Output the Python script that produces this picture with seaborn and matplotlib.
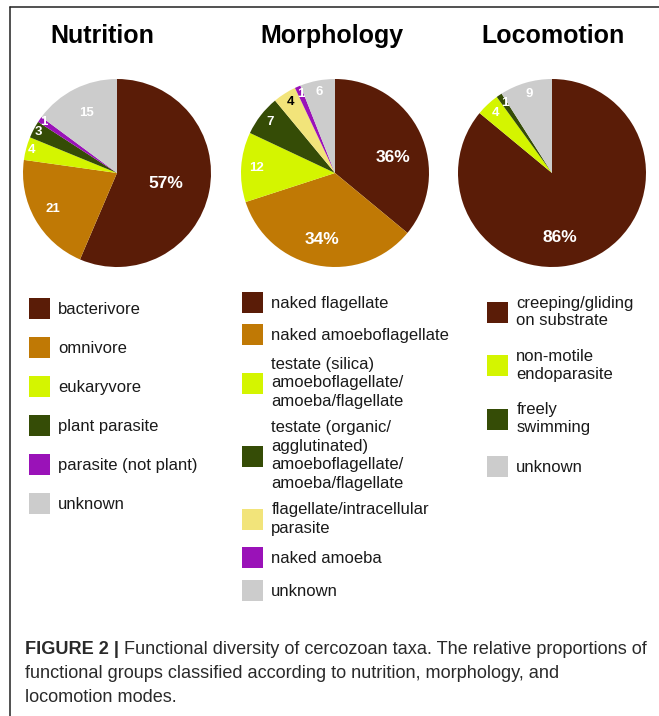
import matplotlib
matplotlib.use("Agg")
import numpy as np
import matplotlib.pyplot as plt
import seaborn as sns
from matplotlib.patches import Patch
from matplotlib.lines import Line2D

# ---------------- data ----------------
nutrition_labels = ["bacterivore", "omnivore", "eukaryvore", "plant parasite",
                    "parasite (not plant)", "unknown"]
nutrition_values = [57, 21, 4, 3, 1, 15]
nutrition_text = ["57%", "21", "4", "3", "1", "15"]

morphology_labels = ["naked flagellate", "naked amoeboflagellate",
                     "testate (silica)\namoeboflagellate/\namoeba/flagellate",
                     "testate (organic/\nagglutinated)\namoeboflagellate/\namoeba/flagellate",
                     "flagellate/intracellular\nparasite", "naked amoeba", "unknown"]
morphology_values = [36, 34, 12, 7, 4, 1, 6]
morphology_text = ["36%", "34%", "12", "7", "4", "1", "6"]

locomotion_labels = ["creeping/gliding\non substrate", "non-motile\nendoparasite",
                     "freely\nswimming", "unknown"]
locomotion_values = [86, 4, 1, 9]
locomotion_text = ["86%", "4", "1", "9"]

# ---------------- styles ----------------
BROWN = "#5a1c07"
ORANGE = "#c07905"
LIME = "#d4f500"
DGREEN = "#354c06"
PURPLE = "#9a12b8"
GREY = "#cccccc"
PALE = "#f2e47a"

nutrition_colors = [BROWN, ORANGE, LIME, DGREEN, PURPLE, GREY]
morphology_colors = [BROWN, ORANGE, LIME, DGREEN, PALE, PURPLE, GREY]
locomotion_colors = [BROWN, LIME, DGREEN, GREY]

# label placement (radius fraction, angular offset in degrees)
nutrition_r = [0.53, 0.78, 0.94, 0.94, 0.95, 0.72]
nutrition_dt = [0, 0, 0, 0, 0, 0]
morphology_r = [0.645, 0.72, 0.84, 0.88, 0.89, 0.91, 0.88]
morphology_dt = [-10, 0, 0, 0, 0, 0, 0]
locomotion_r = [0.69, 0.88, 0.90, 0.87]
locomotion_dt = [-18, 0, 0, 0]
morphology_txtcol = ["white", "white", "white", "white", "black", "white", "white"]

sns.set_theme(style="white")
plt.rcParams["font.family"] = ["Liberation Sans", "DejaVu Sans"]

W, H = 659, 716
fig = plt.figure(figsize=(W / 100, H / 100), dpi=100)
fig.patch.set_facecolor("white")

R = 94


def add_pie(cx, cy, values, colors, texts, radii, dts, txtcols=None):
    ax = fig.add_axes([(cx - R) / W, 1 - (cy + R) / H, 2 * R / W, 2 * R / H])
    wedges, labs = ax.pie(values, colors=colors, startangle=90, counterclock=False,
                          labels=texts, labeldistance=0.7,
                          wedgeprops=dict(linewidth=0),
                          textprops=dict(color="white", fontweight="bold"))
    for i, (w, t) in enumerate(zip(wedges, labs)):
        th = np.deg2rad((w.theta1 + w.theta2) / 2 + dts[i])
        t.set_position((radii[i] * np.cos(th), radii[i] * np.sin(th)))
        t.set_ha("center")
        t.set_va("center")
        pct = t.get_text().endswith("%")
        t.set_fontsize(12.5 if pct else 9.5)
        if txtcols is not None:
            t.set_color(txtcols[i])
    ax.set_xlim(-1, 1)
    ax.set_ylim(-1, 1)
    ax.set_aspect("auto")
    ax.axis("off")
    return ax


add_pie(117, 173, nutrition_values, nutrition_colors, nutrition_text, nutrition_r,
        nutrition_dt)
add_pie(335, 173, morphology_values, morphology_colors, morphology_text, morphology_r,
        morphology_dt, morphology_txtcol)
add_pie(552, 173, locomotion_values, locomotion_colors, locomotion_text, locomotion_r,
        locomotion_dt)

# titles
for x, title in [(102, "Nutrition"), (332, "Morphology"), (553, "Locomotion")]:
    fig.text(x / W, 1 - 43 / H, title, ha="center", va="baseline",
             fontsize=18, fontweight="bold", color="black")


def add_legend(labels, colors, x, y, spacing, linesp):
    handles = [Patch(facecolor=c, edgecolor="none") for c in colors]
    leg = fig.legend(handles, labels, loc="upper left",
                     bbox_to_anchor=(x / W, 1 - y / H), bbox_transform=fig.transFigure,
                     frameon=False, borderpad=0, borderaxespad=0,
                     handlelength=1.26, handleheight=1.56, handletextpad=0.5,
                     labelspacing=spacing,
                     prop={"family": ["Liberation Sans", "DejaVu Sans"], "size": 12})
    for t in leg.get_texts():
        t.set_linespacing(linesp)
        t.set_color("#1a1a1a")
    return leg


add_legend(nutrition_labels, nutrition_colors, 29, 298, 1.08, 1.3)
add_legend(morphology_labels, morphology_colors, 242, 292, 0.68, 1.3)
add_legend(locomotion_labels, locomotion_colors, 487, 296, 1.25, 1.2)

# frame lines
fig.add_artist(Line2D([9.5 / W, 9.5 / W], [0, 1 - 7 / H], transform=fig.transFigure,
                      color="#222222", lw=1.1))
fig.add_artist(Line2D([9.5 / W, 1], [1 - 7 / H, 1 - 7 / H], transform=fig.transFigure,
                      color="#222222", lw=1.1))

# caption
cap_family = ["Liberation Sans Narrow", "Liberation Sans", "DejaVu Sans"]
cap_color = "#2a2a2a"
cap_lines = ["Functional diversity of cercozoan taxa. The relative proportions of",
             "functional groups classified according to nutrition, morphology, and",
             "locomotion modes."]
renderer = fig.canvas.get_renderer()
size0 = 13.0
tb = fig.text(25 / W, 1 - 654 / H, "FIGURE 2 | ", fontsize=size0, fontweight="bold",
              family=cap_family, color=cap_color, va="baseline")
t1 = fig.text(0, 0, cap_lines[0], fontsize=size0, family=cap_family, color=cap_color)
wtot = tb.get_window_extent(renderer).width + t1.get_window_extent(renderer).width
size = size0 * 620 / wtot
tb.set_fontsize(size)
t1.set_fontsize(size)
wb = tb.get_window_extent(renderer).width
t1.set_position((25 / W + wb / W, 1 - 654 / H))
t1.set_va("baseline")
for i, line in enumerate(cap_lines[1:]):
    fig.text(25 / W, 1 - (678 + 24 * i) / H, line, fontsize=size, family=cap_family,
             color=cap_color, va="baseline")

fig.savefig("out.png", dpi=100, facecolor="white")
